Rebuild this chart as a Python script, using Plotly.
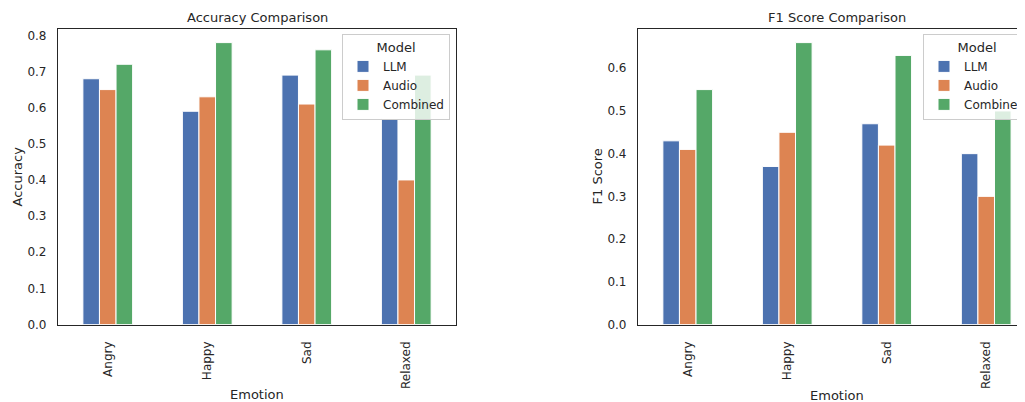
import plotly.graph_objects as go
from plotly.subplots import make_subplots

emotions = ["Angry", "Happy", "Sad", "Relaxed"]
models = ["LLM", "Audio", "Combined"]
colors = ["#4C72B0", "#DD8452", "#55A868"]

acc_llm = [0.68, 0.59, 0.69, 0.57]
acc_audio = [0.65, 0.63, 0.61, 0.40]
acc_combined = [0.72, 0.78, 0.76, 0.69]

f1_llm = [0.43, 0.37, 0.47, 0.40]
f1_audio = [0.41, 0.45, 0.42, 0.30]
f1_combined = [0.55, 0.66, 0.63, 0.50]

acc_series = [acc_llm, acc_audio, acc_combined]
f1_series = [f1_llm, f1_audio, f1_combined]

# page body has an 8px default margin; the figure fills the rest of the window
OFF = 8
W, H = 1025 - OFF, 402 - OFF
TXT = "#262626"
FONT = "DejaVu Sans"

fig = make_subplots(rows=1, cols=2)

for name, vals, c in zip(models, acc_series, colors):
    fig.add_trace(go.Bar(x=emotions, y=vals, name=name, marker_color=c,
                         marker_line_color="white", marker_line_width=1,
                         legend="legend"), row=1, col=1)
for name, vals, c in zip(models, f1_series, colors):
    fig.add_trace(go.Bar(x=emotions, y=vals, name=name, marker_color=c,
                         marker_line_color="white", marker_line_width=1,
                         legend="legend2"), row=1, col=2)

def px(x):
    return (x - OFF) / W

def py(y):
    return 1 - (y - OFF) / H

ydom = [py(324.5), py(28.5)]
leg_common = dict(
    xanchor="left", yanchor="top", xref="container", yref="container",
    bgcolor="rgba(255,255,255,0.8)", bordercolor="#cccccc", borderwidth=1,
    title=dict(text="Model", side="top center", font=dict(size=13, color=TXT)),
    font=dict(size=12, color=TXT), tracegroupgap=0,
)
fig.update_layout(
    width=W, height=H,
    margin=dict(l=0, r=0, t=0, b=0, autoexpand=False),
    plot_bgcolor="white", paper_bgcolor="white",
    font=dict(family=FONT, size=12, color=TXT),
    barmode="group", bargap=0.5, bargroupgap=0,
    xaxis=dict(domain=[px(58), px(456)], range=[-0.5, 3.5]),
    xaxis2=dict(domain=[px(638), 1.0], range=[-0.5, 3.39]),
    yaxis=dict(domain=ydom, range=[0, 0.819]),
    yaxis2=dict(domain=ydom, range=[0, 0.693]),
    legend=dict(x=px(342), y=py(34), **leg_common),
    legend2=dict(x=px(923), y=py(34), **leg_common),
)

fig.update_xaxes(tickangle=-90, showgrid=False, zeroline=False, ticks="", automargin=False,
                 showline=True, linecolor="#262626", linewidth=1.25,
                 ticklabelstandoff=11, tickfont=dict(size=12, color=TXT))
fig.update_xaxes(mirror=True, row=1, col=1)
fig.update_xaxes(mirror=True, row=1, col=2)
fig.update_yaxes(showgrid=False, zeroline=False, ticks="", dtick=0.1, tickformat=".1f",
                 automargin=False,
                 showline=True, linecolor="#262626", linewidth=1.25,
                 ticklabelstandoff=8, tickfont=dict(size=12, color=TXT))
fig.update_yaxes(mirror=True, row=1, col=1)

annots = [
    dict(text="Accuracy Comparison", x=257, y=17, angle=0),
    dict(text="F1 Score Comparison", x=837, y=17, angle=0),
    dict(text="Emotion", x=257, y=394.5, angle=0),
    dict(text="Emotion", x=837, y=395.5, angle=0),
    dict(text="Accuracy", x=17, y=176.5, angle=-90),
    dict(text="F1 Score", x=597, y=176.5, angle=-90),
]
for a in annots:
    fig.add_annotation(text=a["text"], x=px(a["x"]), y=py(a["y"]), xref="paper", yref="paper",
                       xanchor="center", yanchor="middle", showarrow=False,
                       textangle=a["angle"], font=dict(size=13, color=TXT, family=FONT))

fig.write_html("out.html")
